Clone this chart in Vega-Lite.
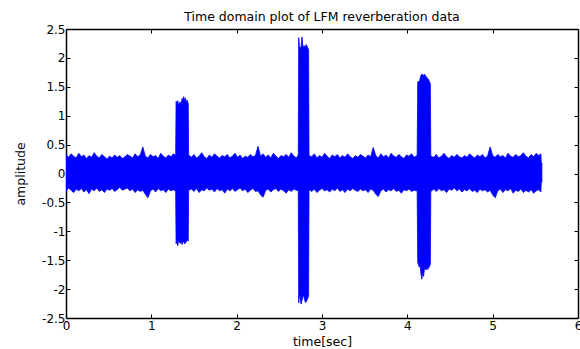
{
  "$schema": "https://vega.github.io/schema/vega-lite/v6.json",
  "width": 512,
  "height": 289,
  "autosize": {"type": "none"},
  "padding": {"left": 66, "top": 29, "right": 2, "bottom": 31},
  "background": "white",
  "title": {
    "text": "Time domain plot of LFM reverberation data",
    "font": "DejaVu Sans",
    "fontSize": 12.5,
    "fontWeight": "normal",
    "color": "black",
    "anchor": "middle",
    "baseline": "alphabetic",
    "offset": 9,
    "dy": 19
  },
  "data": {
    "values": [
      {"t": 0.00, "hi": 0.33, "lo": -0.31},
      {"t": 0.03, "hi": 0.28, "lo": -0.25},
      {"t": 0.06, "hi": 0.34, "lo": -0.29},
      {"t": 0.09, "hi": 0.30, "lo": -0.33},
      {"t": 0.12, "hi": 0.27, "lo": -0.27},
      {"t": 0.15, "hi": 0.35, "lo": -0.30},
      {"t": 0.18, "hi": 0.29, "lo": -0.26},
      {"t": 0.21, "hi": 0.32, "lo": -0.32},
      {"t": 0.24, "hi": 0.26, "lo": -0.28},
      {"t": 0.27, "hi": 0.31, "lo": -0.35},
      {"t": 0.30, "hi": 0.28, "lo": -0.27},
      {"t": 0.33, "hi": 0.36, "lo": -0.30},
      {"t": 0.36, "hi": 0.30, "lo": -0.25},
      {"t": 0.39, "hi": 0.27, "lo": -0.31},
      {"t": 0.42, "hi": 0.33, "lo": -0.28},
      {"t": 0.45, "hi": 0.29, "lo": -0.33},
      {"t": 0.48, "hi": 0.25, "lo": -0.27},
      {"t": 0.51, "hi": 0.30, "lo": -0.29},
      {"t": 0.54, "hi": 0.27, "lo": -0.26},
      {"t": 0.57, "hi": 0.32, "lo": -0.31},
      {"t": 0.60, "hi": 0.28, "lo": -0.28},
      {"t": 0.63, "hi": 0.31, "lo": -0.24},
      {"t": 0.66, "hi": 0.26, "lo": -0.29},
      {"t": 0.69, "hi": 0.29, "lo": -0.27},
      {"t": 0.72, "hi": 0.33, "lo": -0.25},
      {"t": 0.75, "hi": 0.30, "lo": -0.30},
      {"t": 0.78, "hi": 0.27, "lo": -0.27},
      {"t": 0.81, "hi": 0.34, "lo": -0.33},
      {"t": 0.84, "hi": 0.29, "lo": -0.28},
      {"t": 0.87, "hi": 0.32, "lo": -0.31},
      {"t": 0.90, "hi": 0.46, "lo": -0.29},
      {"t": 0.93, "hi": 0.30, "lo": -0.36},
      {"t": 0.96, "hi": 0.27, "lo": -0.42},
      {"t": 0.99, "hi": 0.33, "lo": -0.30},
      {"t": 1.02, "hi": 0.29, "lo": -0.27},
      {"t": 1.05, "hi": 0.31, "lo": -0.32},
      {"t": 1.08, "hi": 0.26, "lo": -0.26},
      {"t": 1.11, "hi": 0.35, "lo": -0.30},
      {"t": 1.14, "hi": 0.30, "lo": -0.28},
      {"t": 1.17, "hi": 0.27, "lo": -0.33},
      {"t": 1.20, "hi": 0.32, "lo": -0.27},
      {"t": 1.23, "hi": 0.29, "lo": -0.30},
      {"t": 1.26, "hi": 0.34, "lo": -0.28},
      {"t": 1.285, "hi": 0.31, "lo": -0.31},
      {"t": 1.29, "hi": 1.25, "lo": -1.22},
      {"t": 1.30, "hi": 1.22, "lo": -1.18},
      {"t": 1.31, "hi": 1.26, "lo": -1.25},
      {"t": 1.32, "hi": 1.17, "lo": -1.15},
      {"t": 1.33, "hi": 1.22, "lo": -1.19},
      {"t": 1.34, "hi": 1.24, "lo": -1.21},
      {"t": 1.35, "hi": 1.18, "lo": -1.16},
      {"t": 1.36, "hi": 1.30, "lo": -1.23},
      {"t": 1.37, "hi": 1.27, "lo": -1.19},
      {"t": 1.38, "hi": 1.33, "lo": -1.17},
      {"t": 1.39, "hi": 1.25, "lo": -1.22},
      {"t": 1.40, "hi": 1.31, "lo": -1.20},
      {"t": 1.41, "hi": 1.22, "lo": -1.18},
      {"t": 1.42, "hi": 1.27, "lo": -1.15},
      {"t": 1.433, "hi": 1.20, "lo": -1.17},
      {"t": 1.437, "hi": 0.32, "lo": -0.29},
      {"t": 1.47, "hi": 0.28, "lo": -0.27},
      {"t": 1.50, "hi": 0.33, "lo": -0.31},
      {"t": 1.53, "hi": 0.27, "lo": -0.26},
      {"t": 1.56, "hi": 0.30, "lo": -0.33},
      {"t": 1.59, "hi": 0.36, "lo": -0.28},
      {"t": 1.62, "hi": 0.29, "lo": -0.30},
      {"t": 1.65, "hi": 0.26, "lo": -0.25},
      {"t": 1.68, "hi": 0.32, "lo": -0.29},
      {"t": 1.71, "hi": 0.28, "lo": -0.27},
      {"t": 1.74, "hi": 0.34, "lo": -0.32},
      {"t": 1.77, "hi": 0.30, "lo": -0.26},
      {"t": 1.80, "hi": 0.27, "lo": -0.30},
      {"t": 1.83, "hi": 0.31, "lo": -0.28},
      {"t": 1.86, "hi": 0.29, "lo": -0.34},
      {"t": 1.89, "hi": 0.33, "lo": -0.27},
      {"t": 1.92, "hi": 0.27, "lo": -0.30},
      {"t": 1.95, "hi": 0.30, "lo": -0.26},
      {"t": 1.98, "hi": 0.35, "lo": -0.31},
      {"t": 2.01, "hi": 0.28, "lo": -0.28},
      {"t": 2.04, "hi": 0.32, "lo": -0.25},
      {"t": 2.07, "hi": 0.26, "lo": -0.30},
      {"t": 2.10, "hi": 0.30, "lo": -0.27},
      {"t": 2.13, "hi": 0.28, "lo": -0.33},
      {"t": 2.16, "hi": 0.33, "lo": -0.29},
      {"t": 2.19, "hi": 0.29, "lo": -0.26},
      {"t": 2.22, "hi": 0.31, "lo": -0.31},
      {"t": 2.25, "hi": 0.47, "lo": -0.30},
      {"t": 2.28, "hi": 0.30, "lo": -0.37},
      {"t": 2.31, "hi": 0.34, "lo": -0.41},
      {"t": 2.34, "hi": 0.28, "lo": -0.29},
      {"t": 2.37, "hi": 0.32, "lo": -0.27},
      {"t": 2.40, "hi": 0.27, "lo": -0.32},
      {"t": 2.43, "hi": 0.35, "lo": -0.28},
      {"t": 2.46, "hi": 0.30, "lo": -0.26},
      {"t": 2.49, "hi": 0.26, "lo": -0.31},
      {"t": 2.52, "hi": 0.31, "lo": -0.27},
      {"t": 2.55, "hi": 0.29, "lo": -0.30},
      {"t": 2.58, "hi": 0.33, "lo": -0.34},
      {"t": 2.61, "hi": 0.28, "lo": -0.28},
      {"t": 2.64, "hi": 0.36, "lo": -0.31},
      {"t": 2.67, "hi": 0.30, "lo": -0.27},
      {"t": 2.70, "hi": 0.27, "lo": -0.29},
      {"t": 2.722, "hi": 0.32, "lo": -0.30},
      {"t": 2.727, "hi": 2.35, "lo": -2.24},
      {"t": 2.735, "hi": 2.20, "lo": -2.10},
      {"t": 2.745, "hi": 2.17, "lo": -2.15},
      {"t": 2.755, "hi": 2.19, "lo": -2.26},
      {"t": 2.765, "hi": 2.36, "lo": -2.20},
      {"t": 2.775, "hi": 2.22, "lo": -2.13},
      {"t": 2.785, "hi": 2.18, "lo": -2.11},
      {"t": 2.795, "hi": 2.21, "lo": -2.18},
      {"t": 2.805, "hi": 2.19, "lo": -2.23},
      {"t": 2.815, "hi": 2.23, "lo": -2.22},
      {"t": 2.825, "hi": 2.20, "lo": -2.19},
      {"t": 2.835, "hi": 2.17, "lo": -2.15},
      {"t": 2.843, "hi": 2.14, "lo": -2.12},
      {"t": 2.848, "hi": 0.31, "lo": -0.28},
      {"t": 2.88, "hi": 0.29, "lo": -0.31},
      {"t": 2.91, "hi": 0.34, "lo": -0.27},
      {"t": 2.94, "hi": 0.27, "lo": -0.33},
      {"t": 2.97, "hi": 0.31, "lo": -0.29},
      {"t": 3.00, "hi": 0.28, "lo": -0.26},
      {"t": 3.03, "hi": 0.35, "lo": -0.30},
      {"t": 3.06, "hi": 0.30, "lo": -0.28},
      {"t": 3.09, "hi": 0.26, "lo": -0.32},
      {"t": 3.12, "hi": 0.32, "lo": -0.27},
      {"t": 3.15, "hi": 0.29, "lo": -0.30},
      {"t": 3.18, "hi": 0.33, "lo": -0.25},
      {"t": 3.21, "hi": 0.27, "lo": -0.31},
      {"t": 3.24, "hi": 0.31, "lo": -0.28},
      {"t": 3.27, "hi": 0.28, "lo": -0.33},
      {"t": 3.30, "hi": 0.34, "lo": -0.27},
      {"t": 3.33, "hi": 0.29, "lo": -0.30},
      {"t": 3.36, "hi": 0.26, "lo": -0.26},
      {"t": 3.39, "hi": 0.31, "lo": -0.29},
      {"t": 3.42, "hi": 0.28, "lo": -0.31},
      {"t": 3.45, "hi": 0.33, "lo": -0.27},
      {"t": 3.48, "hi": 0.30, "lo": -0.30},
      {"t": 3.51, "hi": 0.27, "lo": -0.28},
      {"t": 3.54, "hi": 0.32, "lo": -0.33},
      {"t": 3.57, "hi": 0.29, "lo": -0.27},
      {"t": 3.60, "hi": 0.45, "lo": -0.29},
      {"t": 3.63, "hi": 0.31, "lo": -0.36},
      {"t": 3.66, "hi": 0.27, "lo": -0.40},
      {"t": 3.69, "hi": 0.34, "lo": -0.30},
      {"t": 3.72, "hi": 0.29, "lo": -0.27},
      {"t": 3.75, "hi": 0.32, "lo": -0.32},
      {"t": 3.78, "hi": 0.27, "lo": -0.28},
      {"t": 3.81, "hi": 0.35, "lo": -0.30},
      {"t": 3.84, "hi": 0.30, "lo": -0.26},
      {"t": 3.87, "hi": 0.28, "lo": -0.31},
      {"t": 3.90, "hi": 0.33, "lo": -0.29},
      {"t": 3.93, "hi": 0.29, "lo": -0.34},
      {"t": 3.96, "hi": 0.26, "lo": -0.28},
      {"t": 3.99, "hi": 0.32, "lo": -0.30},
      {"t": 4.02, "hi": 0.30, "lo": -0.27},
      {"t": 4.05, "hi": 0.34, "lo": -0.31},
      {"t": 4.08, "hi": 0.28, "lo": -0.29},
      {"t": 4.115, "hi": 0.31, "lo": -0.30},
      {"t": 4.122, "hi": 1.58, "lo": -1.54},
      {"t": 4.13, "hi": 1.60, "lo": -1.58},
      {"t": 4.14, "hi": 1.57, "lo": -1.62},
      {"t": 4.15, "hi": 1.65, "lo": -1.60},
      {"t": 4.16, "hi": 1.70, "lo": -1.74},
      {"t": 4.17, "hi": 1.72, "lo": -1.83},
      {"t": 4.18, "hi": 1.71, "lo": -1.70},
      {"t": 4.19, "hi": 1.69, "lo": -1.78},
      {"t": 4.20, "hi": 1.72, "lo": -1.66},
      {"t": 4.21, "hi": 1.70, "lo": -1.64},
      {"t": 4.22, "hi": 1.68, "lo": -1.67},
      {"t": 4.23, "hi": 1.66, "lo": -1.62},
      {"t": 4.24, "hi": 1.64, "lo": -1.66},
      {"t": 4.25, "hi": 1.62, "lo": -1.63},
      {"t": 4.262, "hi": 1.58, "lo": -1.60},
      {"t": 4.27, "hi": 1.55, "lo": -1.57},
      {"t": 4.275, "hi": 0.30, "lo": -0.31},
      {"t": 4.31, "hi": 0.28, "lo": -0.27},
      {"t": 4.34, "hi": 0.33, "lo": -0.31},
      {"t": 4.37, "hi": 0.27, "lo": -0.26},
      {"t": 4.40, "hi": 0.30, "lo": -0.30},
      {"t": 4.43, "hi": 0.35, "lo": -0.28},
      {"t": 4.46, "hi": 0.29, "lo": -0.33},
      {"t": 4.49, "hi": 0.26, "lo": -0.27},
      {"t": 4.52, "hi": 0.31, "lo": -0.29},
      {"t": 4.55, "hi": 0.28, "lo": -0.25},
      {"t": 4.58, "hi": 0.33, "lo": -0.30},
      {"t": 4.61, "hi": 0.29, "lo": -0.27},
      {"t": 4.64, "hi": 0.27, "lo": -0.32},
      {"t": 4.67, "hi": 0.31, "lo": -0.28},
      {"t": 4.70, "hi": 0.28, "lo": -0.30},
      {"t": 4.73, "hi": 0.34, "lo": -0.26},
      {"t": 4.76, "hi": 0.30, "lo": -0.31},
      {"t": 4.79, "hi": 0.27, "lo": -0.29},
      {"t": 4.82, "hi": 0.32, "lo": -0.33},
      {"t": 4.85, "hi": 0.29, "lo": -0.27},
      {"t": 4.88, "hi": 0.33, "lo": -0.30},
      {"t": 4.91, "hi": 0.27, "lo": -0.28},
      {"t": 4.94, "hi": 0.30, "lo": -0.32},
      {"t": 4.97, "hi": 0.46, "lo": -0.29},
      {"t": 5.00, "hi": 0.31, "lo": -0.37},
      {"t": 5.03, "hi": 0.28, "lo": -0.42},
      {"t": 5.06, "hi": 0.33, "lo": -0.30},
      {"t": 5.09, "hi": 0.29, "lo": -0.27},
      {"t": 5.12, "hi": 0.31, "lo": -0.33},
      {"t": 5.15, "hi": 0.27, "lo": -0.28},
      {"t": 5.18, "hi": 0.35, "lo": -0.30},
      {"t": 5.21, "hi": 0.30, "lo": -0.26},
      {"t": 5.24, "hi": 0.28, "lo": -0.34},
      {"t": 5.27, "hi": 0.33, "lo": -0.29},
      {"t": 5.30, "hi": 0.29, "lo": -0.31},
      {"t": 5.33, "hi": 0.31, "lo": -0.27},
      {"t": 5.36, "hi": 0.36, "lo": -0.33},
      {"t": 5.39, "hi": 0.30, "lo": -0.29},
      {"t": 5.42, "hi": 0.27, "lo": -0.32},
      {"t": 5.45, "hi": 0.33, "lo": -0.28},
      {"t": 5.48, "hi": 0.29, "lo": -0.34},
      {"t": 5.51, "hi": 0.35, "lo": -0.30},
      {"t": 5.54, "hi": 0.31, "lo": -0.28},
      {"t": 5.565, "hi": 0.34, "lo": -0.32},
      {"t": 5.57, "hi": 0.18, "lo": -0.15},
      {"t": 5.577, "hi": 0.18, "lo": -0.15}
    ]
  },
  "layer": [
    {
      "mark": {"type": "area", "color": "#0000ff", "stroke": "#0000ff", "strokeWidth": 0.8, "interpolate": "linear", "clip": true},
      "encoding": {
        "x": {
          "field": "t", "type": "quantitative",
          "scale": {"domain": [0, 6], "nice": false, "zero": false},
          "axis": {
            "orient": "bottom", "values": [0, 1, 2, 3, 4, 5, 6],
            "labelExpr": "'' + datum.value",
            "title": "time[sec]", "titleFont": "DejaVu Sans", "titleFontSize": 12.5, "titleFontWeight": "normal", "titleColor": "black",
            "titleBaseline": "alphabetic", "titleY": 27,
            "labelFont": "DejaVu Sans", "labelFontSize": 12, "labelColor": "black", "labelPadding": 6, "labelBaseline": "top",
            "labelFlush": false, "labelOverlap": false,
            "tickSize": -4, "tickColor": "black", "tickWidth": 1,
            "domainColor": "black", "domainWidth": 1.5, "grid": false
          }
        },
        "y": {
          "field": "hi", "type": "quantitative",
          "scale": {"domain": [-2.5, 2.5], "nice": false, "zero": false},
          "axis": {
            "orient": "left", "values": [-2.5, -2, -1.5, -1, -0.5, 0, 0.5, 1, 1.5, 2, 2.5],
            "labelExpr": "'' + datum.value",
            "title": "amplitude", "titleFont": "DejaVu Sans", "titleFontSize": 12.5, "titleFontWeight": "normal", "titleColor": "black",
            "titleAngle": -90, "titleBaseline": "alphabetic", "titleX": -42, "titleY": 144.5,
            "labelFont": "DejaVu Sans", "labelFontSize": 12, "labelColor": "black", "labelPadding": 5,
            "labelFlush": false, "labelOverlap": false,
            "tickSize": -4, "tickColor": "black", "tickWidth": 1,
            "domainColor": "black", "domainWidth": 1.5, "grid": false
          }
        },
        "y2": {"field": "lo"}
      }
    },
    {
      "mark": {"type": "point", "opacity": 0},
      "encoding": {
        "x": {
          "field": "t", "type": "quantitative",
          "scale": {"domain": [0, 6], "nice": false, "zero": false},
          "axis": {
            "orient": "top", "values": [0, 1, 2, 3, 4, 5, 6], "labels": false, "title": null,
            "tickSize": -4, "tickColor": "black", "tickWidth": 1,
            "domainColor": "black", "domainWidth": 1.5, "grid": false
          }
        },
        "y": {
          "field": "hi", "type": "quantitative",
          "scale": {"domain": [-2.5, 2.5], "nice": false, "zero": false},
          "axis": {
            "orient": "right", "values": [-2.5, -2, -1.5, -1, -0.5, 0, 0.5, 1, 1.5, 2, 2.5], "labels": false, "title": null,
            "tickSize": -4, "tickColor": "black", "tickWidth": 1,
            "domainColor": "black", "domainWidth": 1.5, "grid": false
          }
        }
      }
    }
  ],
  "resolve": {"axis": {"x": "independent", "y": "independent"}},
  "config": {"view": {"stroke": null}}
}
